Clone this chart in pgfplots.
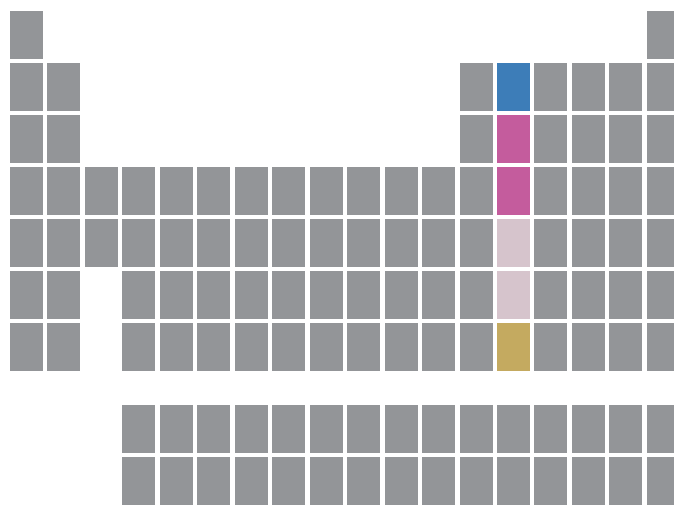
\documentclass[border=0pt]{standalone}
\usepackage{pgfplots}
\pgfplotsset{compat=1.18}
\definecolor{cgrey}{HTML}{939598}
\definecolor{cblue}{HTML}{3D7DB8}
\definecolor{cpink}{HTML}{C45C9D}
\definecolor{clpink}{HTML}{D6C4CC}
\definecolor{cgold}{HTML}{C4AA60}
\pgfdeclareplotmark{cell}{%
  \pgfpathrectangle{\pgfpoint{-16.5pt}{-24pt}}{\pgfpoint{33pt}{48pt}}%
  \pgfusepath{fill}}
\begin{document}
\begin{tikzpicture}
\path[use as bounding box, clip] (0,0) rectangle (674pt,504pt);
\begin{axis}[at={(0,0)}, anchor=south west,
  width=674pt, height=504pt, scale only axis,
  hide axis, clip=true, clip marker paths=true,
  xmin=0.2926, xmax=18.285,
  ymin=0.327, ymax=10.019, y dir=reverse]
% grey cells
\addplot[only marks, mark=cell, color=cgrey] coordinates {
(1,1) (18,1)
(1,2) (2,2) (13,2) (15,2) (16,2) (17,2) (18,2)
(1,3) (2,3) (13,3) (15,3) (16,3) (17,3) (18,3)
(1,4) (2,4) (3,4) (4,4) (5,4) (6,4) (7,4) (8,4) (9,4) (10,4) (11,4) (12,4) (13,4) (15,4) (16,4) (17,4) (18,4)
(1,5) (2,5) (3,5) (4,5) (5,5) (6,5) (7,5) (8,5) (9,5) (10,5) (11,5) (12,5) (13,5) (15,5) (16,5) (17,5) (18,5)
(1,6) (2,6) (4,6) (5,6) (6,6) (7,6) (8,6) (9,6) (10,6) (11,6) (12,6) (13,6) (15,6) (16,6) (17,6) (18,6)
(1,7) (2,7) (4,7) (5,7) (6,7) (7,7) (8,7) (9,7) (10,7) (11,7) (12,7) (13,7) (15,7) (16,7) (17,7) (18,7)
(4,8.577) (5,8.577) (6,8.577) (7,8.577) (8,8.577) (9,8.577) (10,8.577) (11,8.577) (12,8.577) (13,8.577) (14,8.577) (15,8.577) (16,8.577) (17,8.577) (18,8.577)
(4,9.577) (5,9.577) (6,9.577) (7,9.577) (8,9.577) (9,9.577) (10,9.577) (11,9.577) (12,9.577) (13,9.577) (14,9.577) (15,9.577) (16,9.577) (17,9.577) (18,9.577)
};
% group 14 highlighted
\addplot[only marks, mark=cell, color=cblue] coordinates {(14,2)};
\addplot[only marks, mark=cell, color=cpink] coordinates {(14,3) (14,4)};
\addplot[only marks, mark=cell, color=clpink] coordinates {(14,5) (14,6)};
\addplot[only marks, mark=cell, color=cgold] coordinates {(14,7)};
\end{axis}
\end{tikzpicture}
\end{document}
